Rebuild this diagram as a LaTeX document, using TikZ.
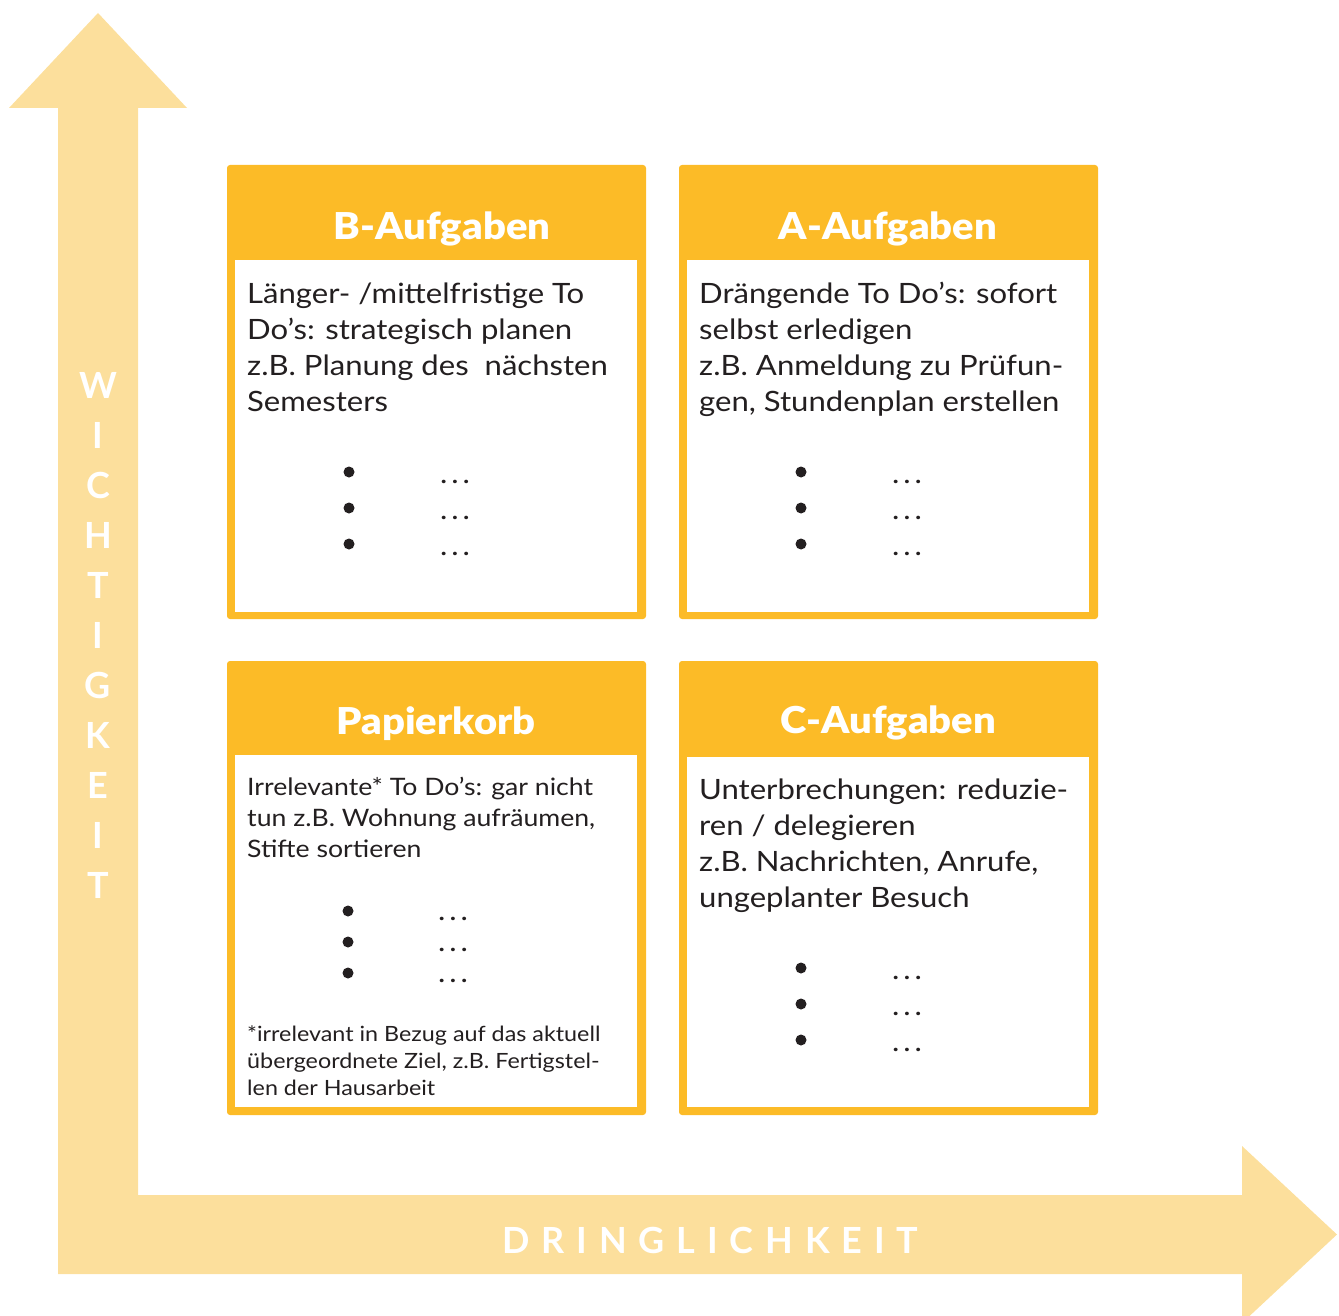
\documentclass[tikz,border=0pt]{standalone}
\usepackage{fontspec}
\setmainfont{Lato}
\newfontfamily\bodyfont{Lato}[FakeStretch=1.11]
\newfontfamily\headfont{Lato Black}[FakeStretch=1.08]
\definecolor{boxorange}{RGB}{252,187,39}
\definecolor{axislight}{RGB}{252,223,156}
\definecolor{ink}{RGB}{35,31,32}
\begin{document}
\begin{tikzpicture}[x=1pt,y=-1pt,
  outerbox/.style={fill=boxorange, draw=none, rounded corners=3pt, minimum width=419pt, minimum height=454pt, inner sep=0pt, outer sep=0pt, anchor=north west},
  innerbox/.style={fill=white, draw=none, anchor=north west, inner sep=0pt, outer sep=0pt, minimum width=402pt},
  headtext/.style={text=white, font=\headfont\fontsize{37}{44}\selectfont, anchor=base, inner sep=0pt},
  bodytext/.style={text=ink, font=\bodyfont\fontsize{28}{36}\selectfont, anchor=base west, align=left, inner sep=0pt},
  smalltext/.style={text=ink, font=\bodyfont\fontsize{24}{31}\selectfont, anchor=base west, align=left, inner sep=0pt},
  notetext/.style={text=ink, font=\bodyfont\fontsize{21}{27}\selectfont, anchor=base west, align=left, inner sep=0pt},
  bulletdot/.style={circle, fill=ink, draw=none, minimum size=11pt, inner sep=0pt},
  dotsnode/.style={text=ink, font=\bodyfont\fontsize{28}{36}\selectfont\addfontfeature{LetterSpace=14}, anchor=base, inner sep=0pt},
  axisletter/.style={text=white, font=\fontsize{36}{40}\selectfont\bfseries, anchor=base, inner sep=0pt},
]
\clip (0,0) rectangle (1339,1316);
% axes
\fill[axislight] (58,1274) -- (58,108) -- (9,108) -- (98,13) -- (187,108) -- (138,108)
  -- (138,1195) -- (1242,1195) -- (1242,1146) -- (1337,1234.5) -- (1242,1323) -- (1242,1274) -- cycle;
% vertical label
\foreach \c [count=\k from 0] in {W,I,C,H,T,I,G,K,E,I,T}
  \node[axisletter] (w\k) at (98,398+50*\k) {\c};
\node[axisletter, anchor=base west] (dring) at (502,1253) {\addfontfeature{LetterSpace=33}DRINGLICHKEIT};

% B box
\node[outerbox] (B) at (227,165) {};
\node[innerbox, minimum height=352pt] (Bin) at (235,260) {};
\node[headtext] (Bh) at (442,240) {B-Aufgaben};
\node[bodytext] (Bt) at (247,411) {Länger- /mittelfristige To\\Do’s: strategisch planen\\z.B. Planung des~ nächsten\\Semesters};
% A box
\node[outerbox] (A) at (679,165) {};
\node[innerbox, minimum height=352pt] (Ain) at (687,260) {};
\node[headtext] (Ah) at (888,240) {A-Aufgaben};
\node[bodytext] (At) at (699,411) {Drängende To Do’s: sofort\\selbst erledigen\\z.B. Anmeldung zu Prüfun-\\gen, Stundenplan erstellen};
% P box
\node[outerbox] (P) at (227,661) {};
\node[innerbox, minimum height=352pt] (Pin) at (235,755) {};
\node[headtext] (Ph) at (436,734) {Papierkorb};
\node[smalltext] (Pt) at (247,857) {Irrelevante* To Do’s: gar nicht\\tun z.B. Wohnung aufräumen,\\Stifte sortieren};
\node[notetext] (Pn) at (247,1095) {*irrelevant in Bezug auf das aktuell\\übergeordnete Ziel, z.B. Fertigstel-\\len der Hausarbeit};
% C box
\node[outerbox] (C) at (679,661) {};
\node[innerbox, minimum height=350pt] (Cin) at (687,757) {};
\node[headtext] (Ch) at (888,733) {C-Aufgaben};
\node[bodytext] (Ct) at (699,907) {Unterbrechungen: reduzie-\\ren / delegieren\\z.B. Nachrichten, Anrufe,\\ungeplanter Besuch};

% bullets
\foreach \k/\y in {1/472,2/508,3/544} {
  \node[bulletdot] (Bb\k) at (349,\y) {};
  \node[dotsnode] (Bd\k) at (455,\y+11) {...};
  \node[bulletdot] (Ab\k) at (801,\y) {};
  \node[dotsnode] (Ad\k) at (907,\y+11) {...};
}
\foreach \k/\y in {1/911,2/942,3/973} {
  \node[bulletdot] (Pb\k) at (348,\y) {};
  \node[dotsnode] (Pd\k) at (453,\y+9) {...};
}
\foreach \k/\y in {1/968,2/1004,3/1040} {
  \node[bulletdot] (Cb\k) at (801,\y) {};
  \node[dotsnode] (Cd\k) at (907,\y+11) {...};
}
\end{tikzpicture}
\end{document}
